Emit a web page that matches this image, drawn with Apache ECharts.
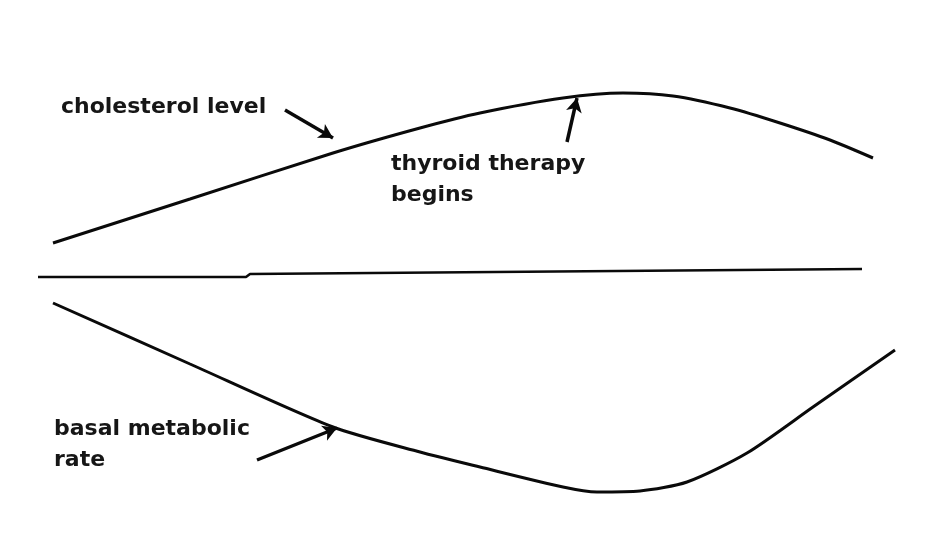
<!DOCTYPE html>
<html>
<head>
<meta charset="utf-8">
<script src="https://cdn.jsdelivr.net/npm/echarts@6/dist/echarts.min.js"></script>
<style>html,body{margin:0;padding:0;background:#fff}#c{width:946px;height:555px}</style>
</head>
<body>
<div id="c"></div>
<script>
// [time position, level]
const cholesterolLevel = [[53,312],[190,356],[333,402],[420,427],[480,442],[563,457],[623,462],[673,459],[730,447],[780,432],[830,415],[873,397]];
const basalMetabolicRate = [[53,252],[190,191],[333,128],[420,103],[480,88],[563,68],[597,63],[640,64],[687,73],[747,102],[813,148],[895,205]];
const baselineLine = [[38,278],[246,278],[250,281],[862,286]];
const arrowCholesterol = [[285,445],[333,417]];
const arrowTherapy = [[567,413],[577,457]];
const arrowBasal = [[257,95],[337,127]];
const labels = {
  cholesterol: 'cholesterol level',
  therapy: ['thyroid therapy', 'begins'],
  basal: ['basal metabolic', 'rate']
};

const chart = echarts.init(document.getElementById('c'), null, {renderer: 'canvas'});
const lineStyle = {color: '#0a0a0a', width: 3};
function arrow(pts) {
  return {
    type: 'line', data: [], silent: true,
    markLine: {
      silent: true, symbol: ['none', 'arrow'], symbolSize: [12, 14],
      label: {show: false},
      lineStyle: {color: '#0a0a0a', width: 3.5, type: 'solid'},
      data: [[{coord: pts[0]}, {coord: pts[1]}]]
    }
  };
}
const font = 'bold 22px "DejaVu Sans"';
function txt(t, x, y) {
  return {type: 'text', x: x, y: y, style: {text: t, font: font, fill: '#161616', verticalAlign: 'middle'}};
}
chart.setOption({
  backgroundColor: '#ffffff',
  animation: false,
  grid: {left: 0, right: 0, top: 0, bottom: 0},
  xAxis: {type: 'value', min: 0, max: 946, show: false},
  yAxis: {type: 'value', min: 0, max: 555, show: false},
  series: [
    {type: 'line', data: cholesterolLevel, smooth: 0.25, showSymbol: false, lineStyle: lineStyle},
    {type: 'line', data: basalMetabolicRate, smooth: 0.25, showSymbol: false, lineStyle: lineStyle},
    {type: 'line', data: baselineLine, showSymbol: false, lineStyle: {color: '#0a0a0a', width: 2.5}},
    arrow(arrowCholesterol),
    arrow(arrowTherapy),
    arrow(arrowBasal)
  ],
  graphic: [
    txt(labels.cholesterol, 61, 107),
    txt(labels.therapy[0], 391, 164),
    txt(labels.therapy[1], 391, 195),
    txt(labels.basal[0], 54, 429),
    txt(labels.basal[1], 54, 460)
  ]
});
</script>
</body>
</html>
